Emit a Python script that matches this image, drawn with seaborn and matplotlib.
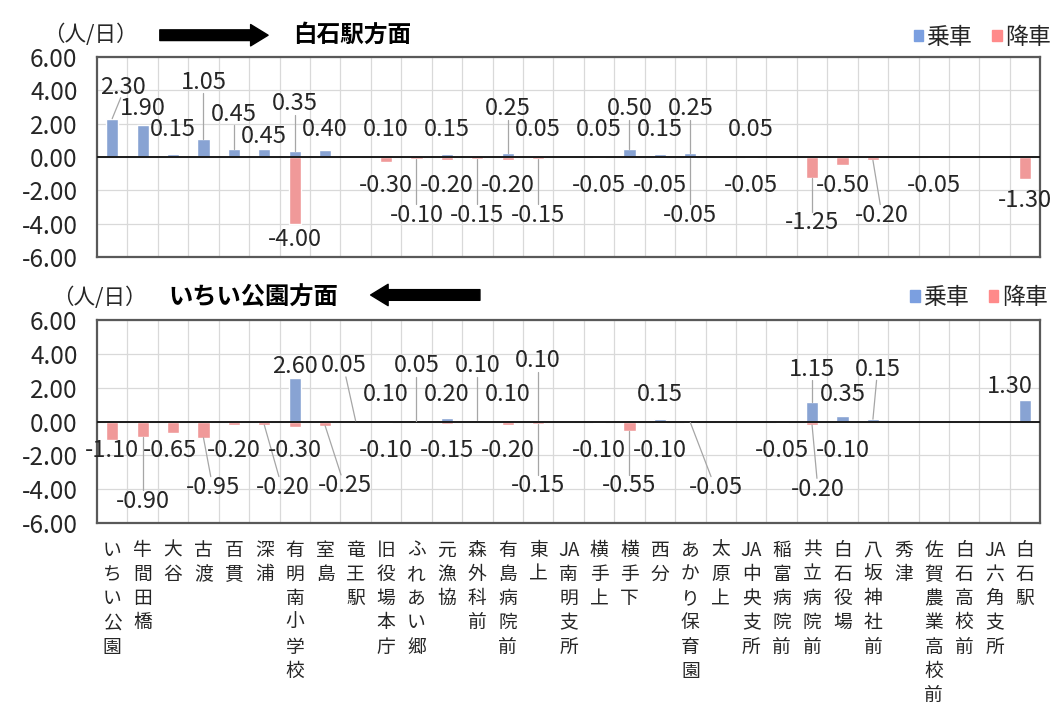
import numpy as np
import pandas as pd
import seaborn as sns
import matplotlib.pyplot as plt
from matplotlib.patches import FancyArrowPatch, Patch

# バス停（いちい公園 → 白石駅）
stops = ['いちい公園', '牛間田橋', '大谷', '古渡', '百貫', '深浦', '有明南小学校', '室島',
         '竜王駅', '旧役場本庁', 'ふれあい郷', '元漁協', '森外科前', '有島病院前', '東上',
         'JA南明支所', '横手上', '横手下', '西分', 'あかり保育園', '太原上', 'JA中央支所',
         '稲富病院前', '共立病院前', '白石役場', '八坂神社前', '秀津', '佐賀農業高校前',
         '白石高校前', 'JA六角支所', '白石駅']

# 白石駅方面（人/日）
up_board = [2.30, 1.90, 0.15, 1.05, 0.45, 0.45, 0.35, 0.40, 0, 0.10, 0, 0.15, 0, 0.25, 0.05, 0,
            0.05, 0.50, 0.15, 0.25, 0, 0.05, 0, 0, 0, 0, 0, 0, 0, 0, 0]
up_alight = [0, 0, 0, 0, 0, 0, -4.00, 0, 0, -0.30, -0.10, -0.20, -0.15, -0.20, -0.15, 0,
             -0.05, 0, -0.05, -0.05, 0, -0.05, 0, -1.25, -0.50, -0.20, 0, -0.05, 0, 0, -1.30]

# いちい公園方面（人/日）
down_board = [0, 0, 0, 0, 0, 0, 2.60, 0, 0.05, 0.10, 0.05, 0.20, 0.10, 0.10, 0.10, 0,
              0, 0, 0.15, 0, 0, 0, 0, 1.15, 0.35, 0.15, 0, 0, 0, 0, 1.30]
down_alight = [-1.10, -0.90, -0.65, -0.95, -0.20, -0.20, -0.30, -0.25, 0, -0.10, 0, -0.15, 0,
               -0.20, -0.15, 0, -0.10, -0.55, -0.10, -0.05, 0, 0, -0.05, -0.20, -0.10, 0, 0,
               0, 0, 0, 0]

# データラベルの位置（y, x方向のずれ）
up_board_ly = [4.2, 2.9, 1.65, 4.5, 2.55, 1.2, 3.2, 1.65, 0, 1.65, 0, 1.65, 0, 2.9, 1.65, 0,
               1.65, 2.9, 1.65, 2.9, 0, 1.65, 0, 0, 0, 0, 0, 0, 0, 0, 0]
up_board_dx = [0.35] + [0] * 30
up_alight_ly = [0, 0, 0, 0, 0, 0, -4.95, 0, 0, -1.7, -3.5, -1.7, -3.5, -1.7, -3.5, 0,
                -1.7, 0, -1.7, -3.5, 0, -1.7, 0, -3.95, -1.7, -3.5, 0, -1.7, 0, 0, -2.6]
up_alight_dx = [0] * 25 + [0.3] + [0] * 5
down_board_ly = [0, 0, 0, 0, 0, 0, 3.25, 0, 3.3, 1.6, 3.3, 1.6, 3.3, 1.6, 3.6, 0,
                 0, 0, 1.6, 0, 0, 0, 0, 3.1, 1.6, 3.1, 0, 0, 0, 0, 2.1]
down_board_dx = [0] * 8 + [-0.4] + [0] * 16 + [0.15] + [0] * 4 + [-0.5]
down_alight_ly = [-1.7, -4.7, -1.7, -3.9, -1.7, -3.9, -1.7, -3.8, 0, -1.7, 0, -1.7, 0,
                  -1.7, -3.8, 0, -1.7, -3.8, -1.7, -3.9, 0, 0, -1.7, -4.0, -1.7, 0, 0,
                  0, 0, 0, 0]
down_alight_dx = [0, 0, -0.1, 0.3, 0, 0.6, 0, 0.65, 0, 0, 0, 0, 0, 0, 0, 0, 0, 0, 0, 0.85,
                  0, 0, 0, 0.2, 0, 0, 0, 0, 0, 0, 0]

sns.set_theme(style='white')
plt.rcParams['font.family'] = ['Noto Sans CJK JP', 'DejaVu Sans']

BLUE = '#7b9fe0'
PINK = '#ff8a8a'
TXT = '#262626'


def vertical(s):
    if s.startswith('JA'):
        return 'JA\n' + '\n'.join(s[2:])
    return '\n'.join(s)


def draw_panel(ax, board, alight, board_ly, board_dx, alight_ly, alight_dx):
    df = pd.DataFrame({'stop': stops * 2,
                       'value': board + alight,
                       'type': ['乗車'] * len(stops) + ['降車'] * len(stops)})
    sns.barplot(data=df, x='stop', y='value', hue='type', order=stops,
                palette={'乗車': BLUE, '降車': PINK}, dodge=False, width=0.4,
                legend=False, ax=ax, zorder=3)
    ax.set_xlim(-0.5, len(stops) - 0.5)
    ax.set_ylim(-6, 6)
    ax.set_yticks(np.arange(-6, 7, 2))
    ax.set_yticklabels([f'{v:.2f}' for v in np.arange(-6, 7, 2)], fontsize=17.5, color=TXT)
    ax.set_xticks(np.arange(len(stops)) + 0.5, minor=True)
    ax.grid(axis='y', which='major', color='#d9d9d9', lw=0.9)
    ax.grid(axis='x', which='minor', color='#d9d9d9', lw=0.9)
    ax.tick_params(axis='both', which='both', length=0)
    ax.tick_params(axis='y', pad=14)
    ax.axhline(0, color='#1a1a1a', lw=1.4, zorder=4)
    for sp in ax.spines.values():
        sp.set_visible(True)
        sp.set_color('#595959')
        sp.set_linewidth(1.6)
    ax.set_xlabel('')
    ax.set_ylabel('')
    # データラベル
    for vals, lys, dxs in ((board, board_ly, board_dx), (alight, alight_ly, alight_dx)):
        for i, (v, ly, dx) in enumerate(zip(vals, lys, dxs)):
            if v == 0:
                continue
            ax.text(i + dx, ly, f'{v:.2f}', ha='center', va='center', fontsize=17,
                    color=TXT, zorder=6)
            if abs(ly - v) > 1.8:
                s = 1 if ly > v else -1
                ax.plot([i, i + dx * 0.8], [v, ly - s * 0.65], color='#a6a6a6', lw=0.9,
                        zorder=5)


fig = plt.figure(figsize=(10.54, 7.04), dpi=100)
ax1 = fig.add_axes([0.092, 0.635, 0.895, 0.284])
ax2 = fig.add_axes([0.092, 0.257, 0.895, 0.288])

draw_panel(ax1, up_board, up_alight, up_board_ly, up_board_dx, up_alight_ly, up_alight_dx)
draw_panel(ax2, down_board, down_alight, down_board_ly, down_board_dx, down_alight_ly,
           down_alight_dx)

ax1.set_xticks(range(len(stops)))
ax1.set_xticklabels([])
ax2.set_xticks(range(len(stops)))
ax2.set_xticklabels([vertical(s) for s in stops], fontsize=13.5, color=TXT,
                    va='top', linespacing=1.2)
ax2.tick_params(axis='x', pad=12)

# 見出し・矢印・凡例
fig.text(0.041, 0.950, '（人/日）', fontsize=15.5, color=TXT, va='center')
fig.text(0.278, 0.950, '白石駅方面', fontsize=17, color='black', weight='bold', va='center')
fig.add_artist(FancyArrowPatch((0.149, 0.950), (0.257, 0.950), transform=fig.transFigure,
                               arrowstyle='simple,head_width=1.1,head_length=0.9,tail_width=0.55',
                               mutation_scale=14, color='black'))
fig.text(0.049, 0.577, '（人/日）', fontsize=15.5, color=TXT, va='center')
fig.text(0.160, 0.577, 'いちい公園方面', fontsize=17.5, color='black', weight='bold',
         va='center')
fig.add_artist(FancyArrowPatch((0.458, 0.581), (0.349, 0.581), transform=fig.transFigure,
                               arrowstyle='simple,head_width=1.1,head_length=0.9,tail_width=0.55',
                               mutation_scale=14, color='black'))

handles = [Patch(color=BLUE), Patch(color=PINK)]
for ax, xr, yc in ((ax1, 0.997, 0.947), (ax2, 0.994, 0.577)):
    ax.legend(handles, ['乗車', '降車'], loc='center right', bbox_to_anchor=(xr, yc),
              bbox_transform=fig.transFigure, ncol=2, frameon=False, fontsize=16.5,
              handlelength=0.4, handleheight=0.4, handletextpad=0.15,
              columnspacing=0.9, borderpad=0, borderaxespad=0, labelcolor=TXT)

fig.savefig('out.png', dpi=100, facecolor='white')
